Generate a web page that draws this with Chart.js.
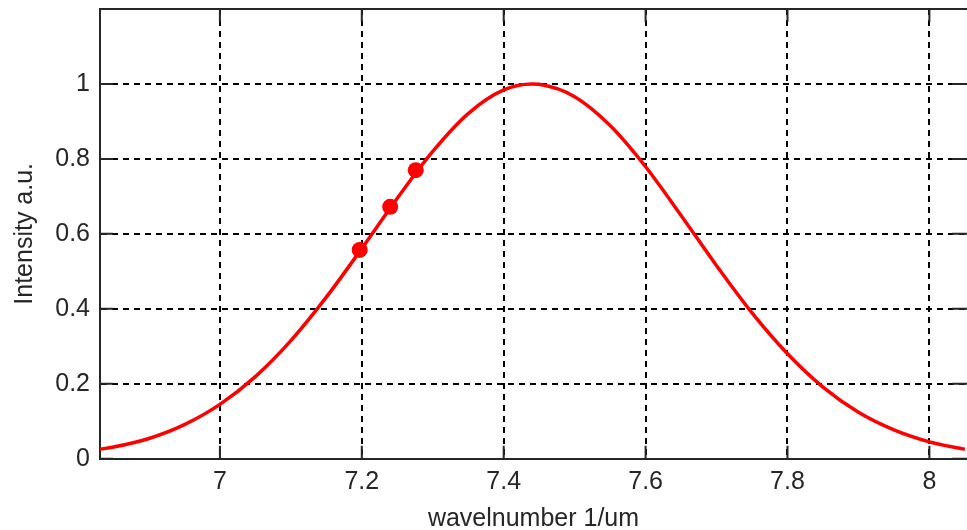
<!DOCTYPE html>
<html>
<head>
<meta charset="utf-8">
<script src="https://cdn.jsdelivr.net/npm/chart.js@4"></script>
<style>
  body { margin: 0; background: #fff; }
  #wrap { width: 967px; height: 530px; }
</style>
</head>
<body>
<div id="wrap"><canvas id="grafica"></canvas></div>
<script>
// curve
var wavenumber = [6.83, 6.85, 6.90, 6.95, 7.00, 7.05, 7.10, 7.15, 7.20, 7.25, 7.30, 7.35, 7.40, 7.44, 7.45,
                  7.50, 7.55, 7.60, 7.65, 7.70, 7.75, 7.80, 7.85, 7.90, 7.95, 8.00, 8.05];
var intensity = [0.025, 0.031, 0.054, 0.091, 0.145, 0.219, 0.315, 0.431, 0.561, 0.695, 0.820, 0.921, 0.984, 1.0, 0.999,
                 0.966, 0.889, 0.779, 0.649, 0.515, 0.389, 0.280, 0.191, 0.124, 0.077, 0.045, 0.025];
// the three measured points
var puntosX = [7.197, 7.240, 7.276];
var puntosY = [0.557, 0.672, 0.770];

var xTicks = [7, 7.2, 7.4, 7.6, 7.8, 8];
var yTicks = [0, 0.2, 0.4, 0.6, 0.8, 1];

var curva = wavenumber.map(function(x, i){ return {x: x, y: intensity[i]}; });
var puntos = puntosX.map(function(x, i){ return {x: x, y: puntosY[i]}; });

function fmt(v){ return String(Math.round(v * 10) / 10); }

// inside tick marks + top border like the matlab axes
var marco = {
    id: 'marco',
    beforeDatasetsDraw: function(chart){
        var ctx = chart.ctx, a = chart.chartArea;
        var sx = chart.scales.x, sy = chart.scales.y;
        ctx.save();
        ctx.strokeStyle = '#262626';
        ctx.lineWidth = 2;
        ctx.beginPath();
        ctx.moveTo(a.left, a.top);
        ctx.lineTo(a.right, a.top);
        ctx.stroke();
        ctx.beginPath();
        xTicks.forEach(function(t){
            var p = sx.getPixelForValue(t);
            ctx.moveTo(p, a.bottom); ctx.lineTo(p, a.bottom - 13);
            ctx.moveTo(p, a.top); ctx.lineTo(p, a.top + 13);
        });
        yTicks.forEach(function(t){
            var p = sy.getPixelForValue(t);
            ctx.moveTo(a.left, p); ctx.lineTo(a.left + 13, p);
            ctx.moveTo(a.right, p); ctx.lineTo(a.right - 15, p);
        });
        ctx.stroke();
        ctx.restore();
    }
};

var fuente = { family: '"Liberation Sans", Arial, sans-serif', size: 25 };

var chartDiv = document.getElementById('grafica');
var myChart = new Chart(chartDiv, {
    type: 'line',
    data: {
        datasets: [
        {
            data: puntos,
            showLine: false,
            pointRadius: 8,
            pointBackgroundColor: '#ff0000',
            pointBorderWidth: 0,
            borderColor: '#ff0000'
        },
        {
            data: curva,
            borderColor: '#ff0000',
            borderWidth: 3.5,
            pointRadius: 0,
            cubicInterpolationMode: 'monotone',
            fill: false
        }]
    },
    plugins: [marco],
    options: {
        responsive: true,
        maintainAspectRatio: false,
        animation: false,
        layout: { autoPadding: false, padding: { top: 9, right: 0, left: 0, bottom: 0 } },
        plugins: {
            legend: { display: false },
            tooltip: { enabled: false }
        },
        scales: {
            x: {
                type: 'linear',
                min: 6.831,
                max: 8.053,
                afterFit: function(s){ s.height = 71.3; s.paddingLeft = 0; s.paddingRight = 0; },
                afterBuildTicks: function(s){ s.ticks = xTicks.map(function(v){ return {value: v}; }); },
                grid: { color: '#000', lineWidth: 2, drawTicks: false },
                border: { color: '#262626', width: 2, dash: [6, 5] },
                ticks: { padding: 8, color: '#262626', font: fuente, callback: fmt },
                title: {
                    display: true,
                    text: 'wavelnumber 1/um',
                    color: '#262626',
                    font: fuente,
                    padding: { top: 0, bottom: -4 }
                }
            },
            y: {
                min: 0,
                max: 1.2,
                afterFit: function(s){ s.width = 100; s.paddingTop = 0; s.paddingBottom = 0; },
                afterBuildTicks: function(s){ s.ticks = yTicks.map(function(v){ return {value: v}; }); },
                grid: { color: '#000', lineWidth: 2, drawTicks: false },
                border: { color: '#262626', width: 2, dash: [6, 5] },
                ticks: { padding: 10, color: '#262626', font: fuente, callback: fmt },
                title: {
                    display: true,
                    text: 'Intensity a.u.',
                    color: '#262626',
                    font: fuente,
                    padding: { top: 10, bottom: 0 }
                }
            }
        }
    }
});
</script>
</body>
</html>
